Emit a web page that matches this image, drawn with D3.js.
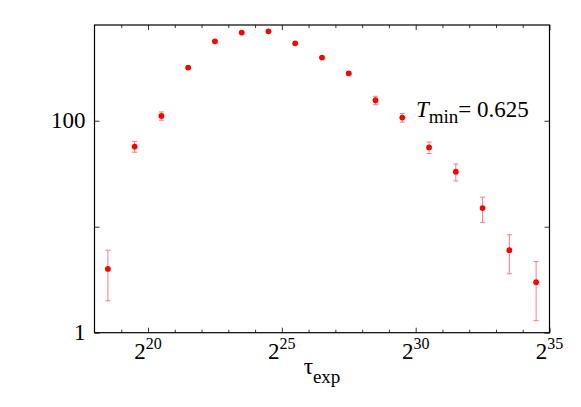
<!DOCTYPE html>
<html>
<head>
<meta charset="utf-8">
<script src="https://cdn.jsdelivr.net/npm/d3@7"></script>
<style>
  body { margin: 0; background: #fff; }
</style>
</head>
<body>
<svg id="chart" width="581" height="407"></svg>
<script>
// log2 of tau_exp for every point
const tauExponents = [18.5, 19.5, 20.5, 21.5, 22.5, 23.5, 24.5, 25.5, 26.5, 27.5, 28.5, 29.5, 30.5, 31.5, 32.5, 33.5, 34.5];
const counts = [4.0, 57, 111, 317, 561, 678, 698, 537, 394, 280, 156, 107, 56, 33, 15, 6.0, 3.0];
const errors = [2.0, 6.6, 10, 9, 12, 14, 14, 12, 9, 10, 14, 10, 7, 6, 4, 2.4, 1.7];

const xMajorExponents = [20, 25, 30, 35];
const xMinorExponents = [19, 21, 22, 23, 24, 26, 27, 28, 29, 31, 32, 33, 34];
const yTicks = [1, 10, 100];
const yLabels = ["1", "", "100"];
const annotation = "0.625";

const plotLeft = 94.5, plotRight = 549.5, plotTop = 25, plotBottom = 332.7;
const serif = "Times New Roman, Times, Tinos, Liberation Serif, Noto Serif, DejaVu Serif, FreeSerif, serif";

const svg = d3.select('#chart');

const xScale = d3.scaleLog().base(2)
  .domain([Math.pow(2, 18), Math.pow(2, 35)])
  .range([plotLeft, plotRight]);

const yScale = d3.scaleLog()
  .domain([1, 800])
  .range([plotBottom, plotTop]);

const data = tauExponents.map((e, i) => ({ tau: Math.pow(2, e), n: counts[i], err: errors[i] }));

// ticks, drawn inward on all four sides
function addXTicks(values, size) {
  svg.append('g')
    .attr('transform', `translate(0, ${plotBottom})`)
    .call(d3.axisBottom(xScale).tickValues(values.map(e => Math.pow(2, e))).tickSize(-size).tickFormat(''))
    .call(g => g.select('.domain').remove());
  svg.append('g')
    .attr('transform', `translate(0, ${plotTop})`)
    .call(d3.axisTop(xScale).tickValues(values.map(e => Math.pow(2, e))).tickSize(-size).tickFormat(''))
    .call(g => g.select('.domain').remove());
}
addXTicks(xMinorExponents, 3);
addXTicks(xMajorExponents, 5);

svg.append('g')
  .attr('transform', `translate(${plotLeft}, 0)`)
  .call(d3.axisLeft(yScale).tickValues(yTicks).tickSize(-5).tickFormat(''))
  .call(g => g.select('.domain').remove());
svg.append('g')
  .attr('transform', `translate(${plotRight}, 0)`)
  .call(d3.axisRight(yScale).tickValues(yTicks).tickSize(-5).tickFormat(''))
  .call(g => g.select('.domain').remove());

svg.selectAll('.tick line').attr('stroke', '#333');

// frame
svg.append('rect')
  .attr('x', plotLeft)
  .attr('y', plotTop)
  .attr('width', plotRight - plotLeft)
  .attr('height', plotBottom - plotTop)
  .attr('fill', 'none')
  .attr('stroke', '#000')
  .attr('stroke-width', 1.2);

// x tick labels 2^n
const xLab = svg.selectAll('.xlab')
  .data(xMajorExponents)
  .enter()
  .append('text')
  .attr('class', 'xlab')
  .attr('x', d => xScale(Math.pow(2, d)))
  .attr('y', 359.3)
  .attr('text-anchor', 'middle')
  .style('font-family', serif);
xLab.append('tspan').style('font-size', '23px').text('2');
xLab.append('tspan').style('font-size', '16px').attr('dy', -10).text(d => d);

// y tick labels
svg.selectAll('.ylab')
  .data(yTicks)
  .enter()
  .append('text')
  .attr('class', 'ylab')
  .attr('x', 85.5)
  .attr('y', d => yScale(d) + 7.5)
  .attr('text-anchor', 'end')
  .style('font-family', serif)
  .style('font-size', '23px')
  .text((d, i) => yLabels[i]);

// axis label
const xTitle = svg.append('text')
  .attr('x', (plotLeft + plotRight) / 2)
  .attr('y', 374.3)
  .attr('text-anchor', 'middle')
  .style('font-family', serif);
xTitle.append('tspan').style('font-size', '23px').text('τ');
xTitle.append('tspan').style('font-size', '19px').attr('dy', 8.4).text('exp');

// annotation
const note = svg.append('text')
  .attr('x', 416)
  .attr('y', 116.7)
  .style('font-family', serif);
note.append('tspan').style('font-size', '23px').style('font-style', 'italic').text('T');
note.append('tspan').style('font-size', '19px').attr('dy', 6.6).text('min');
note.append('tspan').style('font-size', '23px').attr('dy', -6.6).text('= ' + annotation);

// error bars
const bars = svg.append('g')
  .attr('stroke', '#ff7b7b')
  .attr('stroke-width', 1);

bars.selectAll('.bar')
  .data(data)
  .enter()
  .append('line')
  .attr('x1', d => xScale(d.tau))
  .attr('x2', d => xScale(d.tau))
  .attr('y1', d => yScale(d.n + d.err))
  .attr('y2', d => yScale(d.n - d.err));

bars.selectAll('.capTop')
  .data(data)
  .enter()
  .append('line')
  .attr('x1', d => xScale(d.tau) - 2.5)
  .attr('x2', d => xScale(d.tau) + 2.5)
  .attr('y1', d => yScale(d.n + d.err))
  .attr('y2', d => yScale(d.n + d.err));

bars.selectAll('.capBottom')
  .data(data)
  .enter()
  .append('line')
  .attr('x1', d => xScale(d.tau) - 2.5)
  .attr('x2', d => xScale(d.tau) + 2.5)
  .attr('y1', d => yScale(d.n - d.err))
  .attr('y2', d => yScale(d.n - d.err));

// points
svg.selectAll('circle')
  .data(data)
  .enter()
  .append('circle')
  .attr('cx', d => xScale(d.tau))
  .attr('cy', d => yScale(d.n))
  .attr('r', 2.9)
  .style('fill', '#ff0000');
</script>
</body>
</html>
